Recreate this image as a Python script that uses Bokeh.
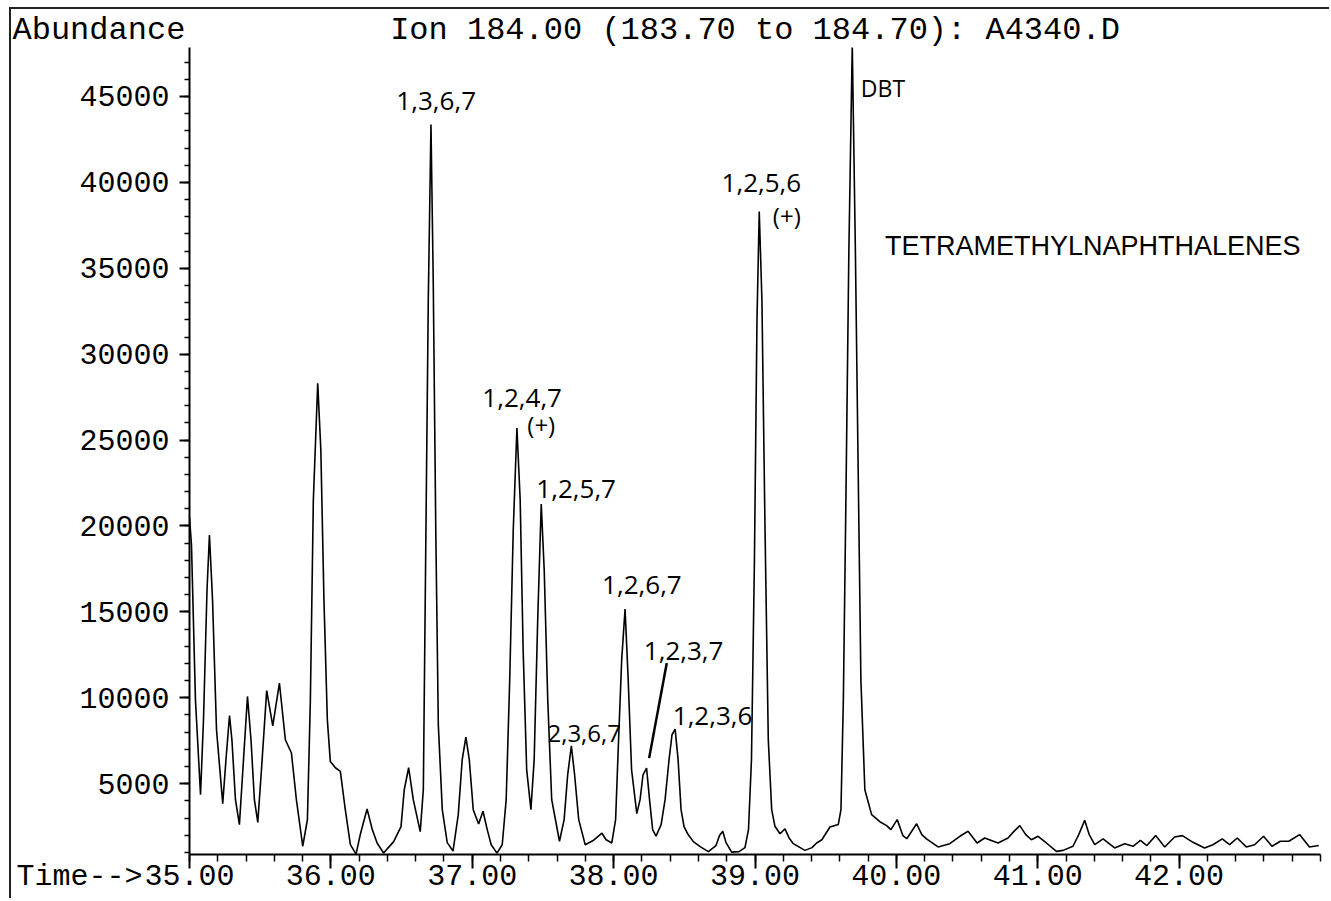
import numpy as np
from bokeh.plotting import figure
from bokeh.models import FixedTicker, PrintfTickFormatter, Label, Range1d, Title
from bokeh.embed import file_html
from bokeh.resources import INLINE

# ---- chromatogram trace (retention time in minutes, abundance) ----
time_min = [
    35.000, 35.014, 35.042, 35.078, 35.099, 35.124, 35.141, 35.163, 35.191, 35.235,
    35.258, 35.283, 35.300, 35.325, 35.353, 35.382, 35.410, 35.435, 35.459, 35.483,
    35.509, 35.546, 35.589, 35.636, 35.678, 35.721, 35.756, 35.801, 35.834, 35.855,
    35.876, 35.907, 35.929, 35.951, 35.975, 35.996, 36.032, 36.067, 36.102, 36.138,
    36.178, 36.208, 36.256, 36.293, 36.327, 36.373, 36.444, 36.496, 36.519, 36.550,
    36.583, 36.632, 36.654, 36.671, 36.689, 36.708, 36.724, 36.742, 36.760, 36.788,
    36.823, 36.864, 36.901, 36.929, 36.955, 36.979, 37.007, 37.045, 37.076, 37.106,
    37.134, 37.175, 37.212, 37.240, 37.265, 37.290, 37.316, 37.339, 37.360, 37.385,
    37.415, 37.438, 37.463, 37.488, 37.509, 37.534, 37.562, 37.617, 37.650, 37.675,
    37.701, 37.724, 37.753, 37.799, 37.855, 37.917, 37.947, 37.987, 38.014, 38.035,
    38.057, 38.081, 38.103, 38.127, 38.164, 38.187, 38.208, 38.233, 38.254, 38.276,
    38.300, 38.336, 38.364, 38.392, 38.413, 38.435, 38.456, 38.477, 38.498, 38.527,
    38.564, 38.612, 38.670, 38.724, 38.749, 38.772, 38.795, 38.835, 38.887, 38.929,
    38.954, 38.975, 38.996, 39.014, 39.030, 39.049, 39.071, 39.094, 39.118, 39.141,
    39.177, 39.212, 39.240, 39.271, 39.353, 39.403, 39.436, 39.473, 39.530, 39.589,
    39.608, 39.625, 39.643, 39.664, 39.688, 39.710, 39.728, 39.749, 39.777, 39.825,
    39.883, 39.931, 39.961, 40.006, 40.046, 40.074, 40.143, 40.180, 40.213, 40.295,
    40.378, 40.449, 40.507, 40.571, 40.625, 40.719, 40.790, 40.830, 40.873, 40.915,
    40.955, 41.002, 41.061, 41.132, 41.179, 41.249, 41.290, 41.332, 41.364, 41.403,
    41.462, 41.544, 41.615, 41.674, 41.726, 41.772, 41.834, 41.898, 41.968, 42.023,
    42.098, 42.180, 42.239, 42.305, 42.357, 42.411, 42.475, 42.534, 42.597, 42.657,
    42.716, 42.776, 42.852, 42.922, 42.988,
]
abundance = [
    20500, 18900, 9900, 4360, 8720, 16300, 19480, 15700, 8140, 3840,
    6400, 8970, 7560, 4070, 2620, 6400, 10080, 7560, 4070, 2750,
    5810, 10420, 8370, 10860, 7560, 6790, 4070, 1360, 2910, 9880,
    21510, 28300, 24420, 15700, 8720, 6300, 5930, 5720, 3490, 1450,
    900, 2040, 3530, 2330, 1550, 970, 1630, 2500, 4650, 5930,
    4070, 2210, 4650, 18600, 33140, 43370, 34300, 19770, 8430, 3490,
    1570, 1080, 3200, 6400, 7710, 6400, 3490, 2660, 3400, 2330,
    1450, 960, 1450, 4070, 11050, 19770, 25700, 21510, 12790, 5810,
    3490, 6400, 14540, 21280, 17440, 9880, 4070, 1650, 2910, 5520,
    7210, 5520, 2910, 1450, 1690, 2120, 1740, 1550, 2910, 7560,
    12210, 15160, 11050, 5810, 3260, 4070, 5520, 5910, 4070, 2330,
    1950, 2620, 4070, 6400, 7850, 8180, 6400, 3490, 2500, 2040,
    1630, 1340, 1050, 1400, 1980, 2230, 1570, 1020, 1050, 1280,
    2330, 6400, 18020, 31980, 38310, 33140, 19770, 7560, 3490, 2520,
    2090, 2370, 1860, 1510, 1120, 1280, 1550, 1740, 2480, 2620,
    3490, 9880, 21510, 36050, 48000, 36050, 24420, 11050, 4650, 3200,
    2790, 2560, 2330, 2910, 1980, 1800, 2670, 2040, 1790, 1320,
    1510, 1940, 2230, 1550, 1840, 1550, 1840, 2210, 2560, 2040,
    1740, 1940, 1550, 1060, 1120, 1360, 2040, 2870, 2040, 1450,
    1790, 1260, 1510, 1360, 1700, 1400, 1980, 1320, 1900, 1980,
    1590, 1260, 1450, 1790, 1450, 1840, 1320, 1450, 1940, 1360,
    1650, 1650, 2040, 1320, 1400,
]

# ---- axes ----
x_major_ticks = [35, 36, 37, 38, 39, 40, 41, 42]
y_major_ticks = [5000, 10000, 15000, 20000, 25000, 30000, 35000, 40000, 45000]
x_minor_ticks = [float(v) for v in np.round(np.arange(35.0, 43.001, 0.2), 1)]
y_minor_ticks = [float(v) for v in np.arange(1000, 48000, 1000)]

title_text = "Ion 184.00 (183.70 to 184.70): A4340.D"
y_title = "Abundance"
x_title = "Time-->"

# ---- handwritten peak annotations (text, time, abundance) ----
ann_text = ["1,3,6,7", "1,2,4,7", "(+)", "1,2,5,7", "2,3,6,7", "1,2,6,7",
            "1,2,3,7", "1,2,3,6", "1,2,5,6", "(+)", "DBT"]
ann_time = [36.745, 37.353, 37.488, 37.735, 37.792, 38.200,
            38.495, 38.700, 39.045, 39.225, 39.905]
ann_abund = [44750, 27450, 25900, 22150, 7950, 16550,
             12700, 8950, 39950, 38100, 45500]
ann_size = ["26px", "26px", "24px", "26px", "24px", "26px",
            "26px", "26px", "26px", "24px", "23px"]
leader_time = [38.376, 38.251]
leader_abund = [12020, 6490]
group_text = "TETRAMETHYLNAPHTHALENES"

MONO = "Liberation Mono"

p = figure(width=1320, height=891, x_range=Range1d(35, 43), y_range=Range1d(880, 47850),
           output_backend="svg", toolbar_location=None,
           min_border_left=178, min_border_right=11, min_border_top=38, min_border_bottom=46)
p.styles = {"margin-left": "9px", "margin-top": "7px",
            "border-left": "2px solid #222", "border-top": "2px solid #222"}
p.background_fill_color = "white"
p.border_fill_color = "white"
p.outline_line_color = None
p.xgrid.visible = False
p.ygrid.visible = False
p.title.text = ""

# the two header texts on one row: the chart title next to the frame,
# the "Abundance" heading stacked outside it and pulled back onto the same row
ion_title = Title(text=title_text, align="center", standoff=-2, vertical_align="bottom",
                  text_font=MONO, text_font_size="32px", text_font_style="normal",
                  text_color="black")
p.add_layout(ion_title, "above")
ab_title = Title(text=y_title, align="left", offset=-177, standoff=-76, vertical_align="bottom",
                 text_font=MONO, text_font_size="32px", text_font_style="normal",
                 text_color="black")
p.add_layout(ab_title, "above")

xa = p.xaxis[0]
xa.ticker = FixedTicker(ticks=x_major_ticks, minor_ticks=x_minor_ticks)
xa.formatter = PrintfTickFormatter(format="%.2f")
xa.major_label_text_font = MONO
xa.major_label_text_font_size = "30px"
xa.major_label_text_color = "black"
xa.major_tick_in = 0
xa.major_tick_out = 14
xa.minor_tick_in = 0
xa.minor_tick_out = 7
xa.major_label_standoff = -4
xa.axis_line_width = 2
xa.major_tick_line_width = 2
xa.minor_tick_line_width = 1.5
xa.axis_line_color = "black"

ya = p.yaxis[0]
ya.ticker = FixedTicker(ticks=y_major_ticks, minor_ticks=y_minor_ticks)
ya.formatter = PrintfTickFormatter(format="%d")
ya.major_label_text_font = MONO
ya.major_label_text_font_size = "30px"
ya.major_label_text_color = "black"
ya.major_tick_in = 0
ya.major_tick_out = 10
ya.minor_tick_in = 0
ya.minor_tick_out = 5
ya.major_label_standoff = 10
ya.axis_line_width = 2
ya.major_tick_line_width = 2
ya.minor_tick_line_width = 1.5
ya.axis_line_color = "black"

p.line(time_min, abundance, line_color="black", line_width=1.6)

for t, tx, ab, fs in zip(ann_text, ann_time, ann_abund, ann_size):
    p.add_layout(Label(x=tx, y=ab, text=t, text_font="Open Sans", text_font_size=fs,
                       text_align="center", text_baseline="middle", text_color="black"))
p.segment(x0=[leader_time[0]], y0=[leader_abund[0]], x1=[leader_time[1]], y1=[leader_abund[1]],
          line_color="black", line_width=2.5)

p.add_layout(Label(x=39.919, y=36300, text=group_text, text_font="Liberation Sans",
                   text_font_size="27px", text_align="left", text_baseline="middle",
                   text_color="black"))

tm_title = Title(text=x_title, align="left", offset=-173, standoff=-56, vertical_align="top",
                 text_font=MONO, text_font_size="30px", text_font_style="normal",
                 text_color="black")
p.add_layout(tm_title, "below")

open("out.html", "w").write(file_html(p, INLINE))
